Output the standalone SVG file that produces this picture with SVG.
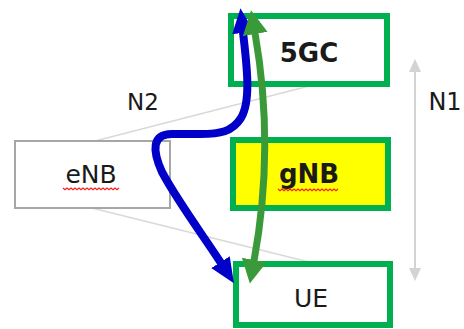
<svg xmlns="http://www.w3.org/2000/svg" width="464" height="329" viewBox="0 0 464 329">
<style>
.box{stroke:#00b050;stroke-width:6;fill:#fff}
.lbl{font-family:"DejaVu Sans",Verdana,sans-serif;fill:#1a1a1a;text-anchor:middle}
.b{font-weight:bold;font-size:26px}
.r{font-size:25px}
.thin{stroke:#d9d9d9;stroke-width:1.5;fill:none}
.sq{stroke:#f02020;stroke-width:1.2;fill:none}
</style>
<defs>
<marker id="gh" markerUnits="userSpaceOnUse" markerWidth="26" markerHeight="26" refX="1" refY="12.5" orient="auto-start-reverse"><path d="M0,0 L24,12.5 L0,25 z" fill="#3a9a3a"/></marker>
<marker id="bh" markerUnits="userSpaceOnUse" markerWidth="26" markerHeight="24" refX="1" refY="11" orient="auto-start-reverse"><path d="M0,0 L25,11 L0,22 z" fill="#0000c8"/></marker>
<marker id="nh" markerUnits="userSpaceOnUse" markerWidth="14" markerHeight="14" refX="1" refY="6" orient="auto-start-reverse"><path d="M0,0 L13,6 L0,12 z" fill="#d3d3d3"/></marker>
</defs>
<rect width="464" height="329" fill="#fff"/>
<g id="connectors-bg">
<line class="thin" x1="95" y1="141" x2="313" y2="85"/>
<line class="thin" x1="92" y1="208" x2="313" y2="263"/>
</g>
<g id="n-5gc"><rect class="box" x="231" y="16" width="156" height="68"/><text class="lbl b" x="309" y="62">5GC</text></g>
<g id="n-gnb"><rect class="box" x="233" y="140" width="155" height="68" style="fill:#ffff00"/><text class="lbl b" x="309" y="183">gNB</text><path class="sq" d="M278,189 l2,1.8 l2,-1.8 l2,1.8 l2,-1.8 l2,1.8 l2,-1.8 l2,1.8 l2,-1.8 l2,1.8 l2,-1.8 l2,1.8 l2,-1.8 l2,1.8 l2,-1.8 l2,1.8 l2,-1.8 l2,1.8 l2,-1.8 l2,1.8 l2,-1.8 l2,1.8 l2,-1.8 l2,1.8 l2,-1.8 l2,1.8 l2,-1.8 l2,1.8 l2,-1.8 l2,1.8 l2,-1.8"/></g>
<g id="n-enb"><rect x="15" y="141" width="155" height="67" fill="#fff" stroke="#a6a6a6" stroke-width="2"/><text class="lbl r" x="91" y="183">eNB</text><path class="sq" d="M63,188 l2,1.8 l2,-1.8 l2,1.8 l2,-1.8 l2,1.8 l2,-1.8 l2,1.8 l2,-1.8 l2,1.8 l2,-1.8 l2,1.8 l2,-1.8 l2,1.8 l2,-1.8 l2,1.8 l2,-1.8 l2,1.8 l2,-1.8 l2,1.8 l2,-1.8 l2,1.8 l2,-1.8 l2,1.8 l2,-1.8 l2,1.8 l2,-1.8 l2,1.8 l2,-1.8"/></g>
<g id="n-ue"><rect class="box" x="236" y="264" width="154" height="61"/><text class="lbl r" x="311" y="307">UE</text></g>
<g id="connectors">
<line x1="415" y1="71" x2="415" y2="269" stroke="#d3d3d3" stroke-width="2" marker-start="url(#nh)" marker-end="url(#nh)"/>
<text class="lbl r" x="143" y="110" style="font-size:23px">N2</text>
<text class="lbl r" x="445" y="110" style="font-size:24px">N1</text>
<path d="M243,32 C246,60 252,100 241,118 C232,132 220,134 200,134 L172,134 C152,134 152,150 162,172 C178,202 205,238 221,263" fill="none" stroke="#0000c8" stroke-width="8" marker-start="url(#bh)" marker-end="url(#bh)"/>
<path d="M255,33 Q275,147 254,261" fill="none" stroke="#3a9a3a" stroke-width="7" marker-start="url(#gh)" marker-end="url(#gh)"/>
</g>
</svg>
